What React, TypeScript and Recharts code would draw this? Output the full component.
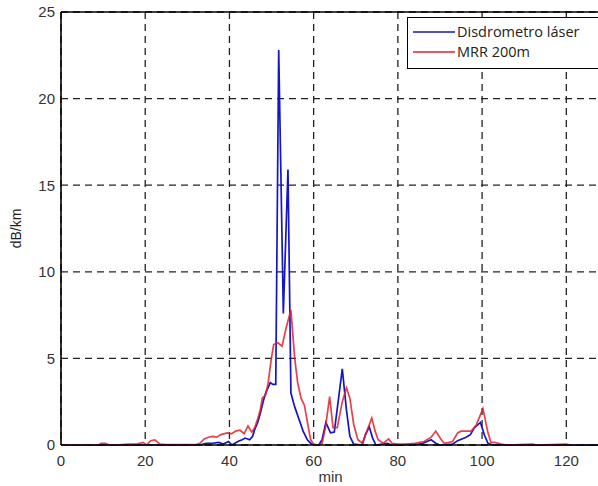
import React from "react";
import {
  LineChart,
  Line,
  XAxis,
  YAxis,
  CartesianGrid,
  ReferenceLine,
} from "recharts";

// Specific attenuation (dB/km) over time (min)
const disdroTime = [
  0, 10, 20, 30, 33, 34.5, 36, 37.5, 38.5, 39.8, 40.6, 42, 43, 43.7, 44.8, 45.5,
  46, 46.7, 47.3, 48, 48.6, 49.7, 50.3, 51.0, 51.7, 52.8, 53.9, 54.6, 55.5, 56.5,
  57.5, 58.5, 59.5, 60.5, 61.2, 62, 62.9, 64.0, 64.9, 66.8, 67.8, 68.6, 69.5,
  71.5, 72.3, 73.2, 74.0, 74.8, 77.5, 78.5, 80, 85, 86, 87.9, 89, 90, 93, 94.2,
  96.2, 97.2, 98.2, 99.6, 100.6, 101.4, 102.5, 110, 128,
];
const disdroDb = [
  0, 0, 0, 0, 0, 0.1, 0.1, 0.15, 0.05, 0.2, 0, 0.2, 0.3, 0.4, 0.3, 0.5, 0.9,
  1.3, 1.8, 2.5, 3.0, 3.6, 3.5, 3.5, 22.8, 7.6, 15.9, 3.0, 2.2, 1.5, 0.8, 0.3,
  0.05, 0, 0, 0.3, 1.3, 0.7, 0.75, 4.4, 2.0, 0.5, 0.05, 0, 0.6, 1.05, 0.4, 0,
  0.1, 0, 0, 0.05, 0.1, 0.3, 0.1, 0, 0.05, 0.25, 0.45, 0.6, 1.0, 1.3, 0.55, 0.1,
  0, 0, 0,
];

const mrrTime = [
  0, 9, 9.5, 10.5, 11.5, 13, 16, 18, 19.5, 20.3, 21.3, 22.3, 23.5, 25, 32, 33,
  34, 35, 36, 37, 38, 39.5, 40.5, 41.5, 42.5, 43.5, 44.4, 45.3, 46, 46.7, 47.3,
  47.8, 48.6, 49.2, 49.9, 50.5, 51.5, 52.5, 53.5, 54.6, 55.5, 56.2, 57, 57.8,
  58.6, 59.3, 60, 61, 62, 62.8, 63.8, 64.6, 65.6, 66.8, 67.8, 68.6, 69.5, 70.5,
  71.6, 72.8, 73.8, 74.6, 75.3, 76.5, 77.8, 78.6, 80, 82, 84, 86.2, 87.9, 89,
  90.2, 91, 93, 94.2, 95, 97.4, 98.6, 100.2, 101.4, 102.1, 103, 104.5, 106, 112,
  113, 120, 121,
];
const mrrDb = [
  0, 0, 0.1, 0.1, 0, 0, 0.05, 0.05, 0.15, 0, 0.25, 0.3, 0.05, 0.03, 0.03, 0.1,
  0.35, 0.45, 0.5, 0.45, 0.6, 0.7, 0.65, 0.8, 0.85, 0.65, 1.1, 0.75, 1.0, 1.5,
  2.0, 2.7, 2.9, 3.6, 4.9, 5.8, 5.9, 5.7, 6.8, 7.8, 5.0, 3.6, 2.7, 2.3, 1.2, 0.3,
  0.05, 0, 0.1, 1.0, 2.8, 1.0, 1.0, 2.5, 3.3, 2.7, 1.2, 0.3, 0.1, 0.9, 1.55, 0.8,
  0.3, 0.1, 0.35, 0.1, 0.05, 0.05, 0.1, 0.2, 0.45, 0.8, 0.35, 0.1, 0.2, 0.7, 0.8,
  0.8, 1.15, 2.1, 0.7, 0.15, 0.15, 0.05, 0, 0.05, 0, 0.05, 0,
];

const xTicks = [0, 20, 40, 60, 80, 100, 120];
const yTicks = [0, 5, 10, 15, 20, 25];

const seriesNames = ["Disdrometro láser", "MRR 200m"];
const seriesColors = ["#1414c8", "#e0202c"];

const disdroData = disdroTime.map((t, i) => ({ t, v: disdroDb[i] }));
const mrrData = mrrTime.map((t, i) => ({ t, v: mrrDb[i] }));

const tickStyle = {
  fontFamily: "'Liberation Sans', Arial, sans-serif",
  fontSize: 15,
  fill: "#333",
};

export default function App() {
  return (
    <div
      style={{
        position: "absolute",
        left: 0,
        top: 0,
        width: 598,
        height: 486,
        background: "#fff",
        overflow: "hidden",
      }}
    >
      {/* plot runs past the right edge of the frame, which crops it */}
      <LineChart
        width={600}
        height={486}
        margin={{ top: 12, right: 0, left: 0, bottom: 0 }}
      >
        <CartesianGrid stroke="#222" strokeWidth={1.3} strokeDasharray="7 5" />
        <XAxis
          type="number"
          dataKey="t"
          domain={[0, 128]}
          ticks={xTicks}
          allowDataOverflow
          height={41}
          tickLine={false}
          tickSize={0}
          tickMargin={10}
          tick={tickStyle}
          axisLine={{ stroke: "#000", strokeWidth: 1.6 }}
          label={{
            value: "min",
            position: "insideBottom",
            offset: 4,
            style: { ...tickStyle, fontSize: 15 },
          }}
        />
        <YAxis
          type="number"
          dataKey="v"
          domain={[0, 25]}
          ticks={yTicks}
          width={61}
          tickLine={false}
          tickSize={0}
          tickMargin={6}
          tick={tickStyle}
          axisLine={{ stroke: "#000", strokeWidth: 1.6 }}
          label={{
            value: "dB/km",
            angle: -90,
            position: "insideLeft",
            offset: 16,
            style: { ...tickStyle, fontSize: 14, fill: "#222", textAnchor: "middle" },
          }}
        />
        <ReferenceLine y={25} stroke="#000" strokeWidth={1.6} />
        <Line
          data={disdroData}
          dataKey="v"
          name={seriesNames[0]}
          type="linear"
          stroke={seriesColors[0]}
          strokeWidth={1.7}
          dot={false}
          isAnimationActive={false}
        />
        <Line
          data={mrrData}
          dataKey="v"
          name={seriesNames[1]}
          type="linear"
          stroke={seriesColors[1]}
          strokeWidth={1.7}
          strokeOpacity={0.85}
          dot={false}
          isAnimationActive={false}
        />
      </LineChart>
      <div
        style={{
          position: "absolute",
          left: 407,
          top: 17,
          width: 200,
          height: 50,
          border: "1.5px solid #000",
          background: "#fff",
          fontFamily: "'Open Sans', 'Noto Sans', sans-serif",
          fontSize: 14.5,
          lineHeight: "18px",
          color: "#222",
        }}
      >
        {seriesNames.map((name, i) => (
          <div
            key={name}
            style={{
              position: "absolute",
              left: 5,
              top: 4 + i * 20,
              height: 20,
              display: "flex",
              alignItems: "center",
              whiteSpace: "nowrap",
            }}
          >
            <svg width={42} height={4} style={{ marginRight: 2 }}>
              <line x1={0} y1={2} x2={42} y2={2} stroke={seriesColors[i]} strokeWidth={1.7} />
            </svg>
            <span>{name}</span>
          </div>
        ))}
      </div>
    </div>
  );
}
